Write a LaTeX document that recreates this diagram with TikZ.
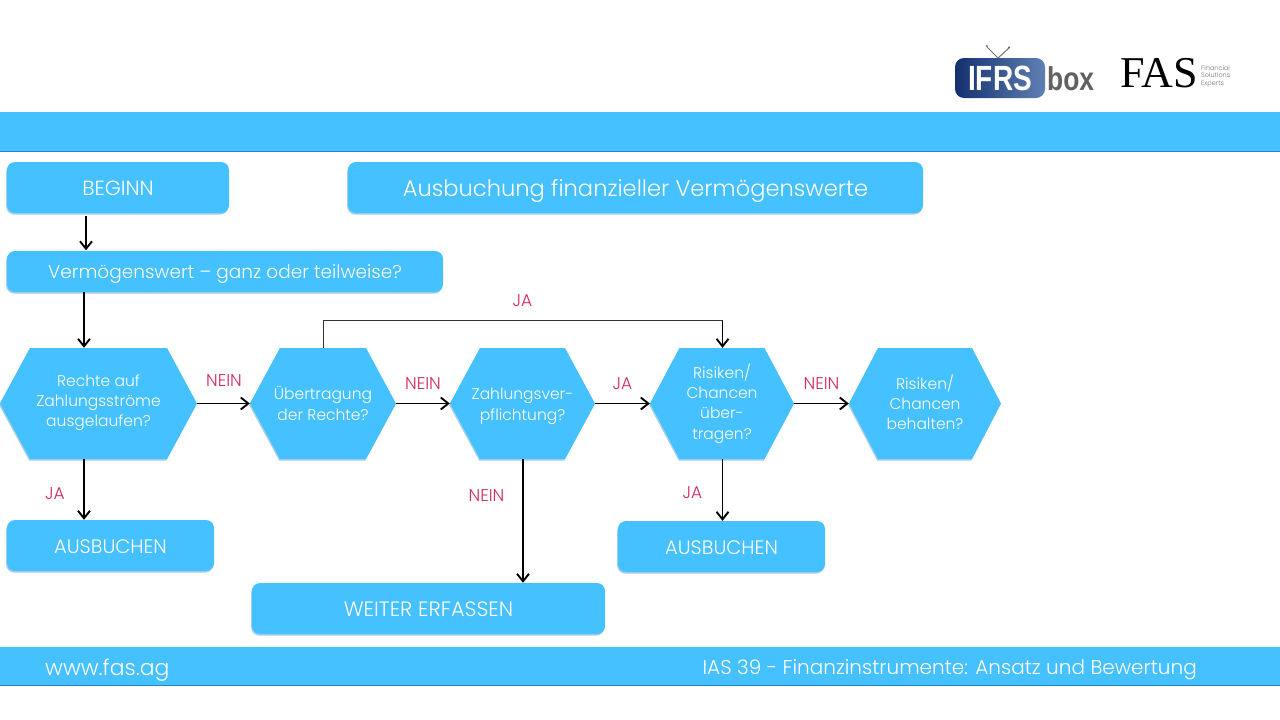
\documentclass[tikz,border=0pt]{standalone}
\usepackage{fontspec}
\setmainfont{Poppins Light}
\newfontfamily\logosans{Liberation Sans}[FakeStretch=0.8]
\newfontfamily\logoserif{Liberation Serif}
\usetikzlibrary{shadows,arrows.meta,positioning}
\definecolor{skyb}{HTML}{45C1FF}
\definecolor{bandline}{HTML}{1F86C8}
\definecolor{nein}{HTML}{D02A62}
\definecolor{ifrsd}{HTML}{14306F}
\definecolor{ifrsl}{HTML}{5F80B5}
\tikzset{
  x=1pt,y=-1pt,
  softshadow/.style={general shadow={shadow xshift=-0.8pt,shadow yshift=-1.6pt,fill=bandline,opacity=.4}},
  flowbox/.style={fill=skyb,rounded corners=8pt,text=white,inner sep=0pt,align=center,softshadow,text depth=0pt},
  hexfill/.style={fill=skyb,softshadow},
  hextext/.style={text=white,inner sep=0pt,align=center,text depth=0pt,font=\fontsize{15.5}{20.2}\selectfont},
  flow/.style={draw=black,line width=1.7pt,-{Straight Barb[length=7.5pt,width=12pt,line width=1.9pt]}},
  thinlink/.style={draw=black!80,line width=1pt},
  branch/.style={font=\fontsize{17}{17}\selectfont,text=nein,inner sep=0pt},
  bandtxt/.style={text=white,inner sep=0pt,anchor=west},
}
% name, left, right, top, bottom, inset, text height (puts the last baseline), text
\newcommand{\hexnode}[8]{%
  \path[hexfill] (#2,{(#4+#5)/2}) -- (#2+#6,#4) -- (#3-#6,#4) -- (#3,{(#4+#5)/2}) -- (#3-#6,#5) -- (#2+#6,#5) -- cycle;
  \node[hextext,text height=#7pt,minimum width=#3pt-#2pt,minimum height=#5pt-#4pt] (#1) at ({(#2+#3)/2},{(#4+#5)/2}) {#8};
}
% name, left, right, top, bottom, font size, text
\newcommand{\boxnode}[7]{%
  \node[flowbox,text height={0.7*#6pt+1.5pt},minimum width=#3pt-#2pt,minimum height=#5pt-#4pt,font=\fontsize{#6}{#6}\selectfont] (#1) at ({(#2+#3)/2},{(#4+#5)/2}) {#7};
}
\begin{document}
\begin{tikzpicture}
\useasboundingbox (0,0) rectangle (1280,720);
\fill[white] (0,0) rectangle (1280,720);
% bands
\node[fill=skyb,minimum width=1280pt,minimum height=39pt,inner sep=0pt,anchor=north west] (topband) at (0,112) {};
\draw[bandline,line width=1.2pt] (topband.south west) -- (topband.south east);
\node[fill=skyb,minimum width=1280pt,minimum height=38pt,inner sep=0pt,anchor=north west] (botband) at (0,647) {};
\draw[bandline,line width=1.2pt] (botband.south west) -- (botband.south east);
\node[bandtxt,font=\fontsize{21.9}{21.9}\selectfont] (url) at (45,670) {www.fas.ag};
\node[bandtxt,font=\fontsize{20}{20}\selectfont,anchor=east] (ias) at (1197,670) {IAS 39 - Finanzinstrumente: Ansatz und Bewertung};
% boxes
\boxnode{beginn}{7}{229}{162}{213}{20.5}{BEGINN}
\boxnode{title}{348}{923}{162}{213}{22.6}{Ausbuchung finanzieller Vermögenswerte}
\boxnode{verm}{7}{443}{251}{292}{18.5}{Vermögenswert – ganz oder teilweise?}
\boxnode{aus1}{7}{214}{520}{571}{19.5}{AUSBUCHEN}
\boxnode{aus2}{618}{825}{521}{572}{19.5}{AUSBUCHEN}
\boxnode{weiter}{252}{605}{583}{634}{20.8}{WEITER ERFASSEN}
% hexagons
\hexnode{h1}{0}{197}{348}{459}{30}{46}{Rechte auf\\Zahlungsströme\\ausgelaufen?}
\hexnode{h2}{250}{396}{348}{459}{30}{33}{Übertragung\\der Rechte?}
\hexnode{h3}{450}{595}{348}{459}{30}{33}{Zahlungsver-\\pflichtung?}
\hexnode{h4}{650}{794}{348}{459}{29.5}{71}{Risiken/\\Chancen\\über-\\tragen?}
\hexnode{h5}{849}{1001}{348}{459}{29}{52}{Risiken/\\Chancen\\behalten?}
% connectors
\coordinate (xa) at (86,0);
\coordinate (xb) at (84,0);
\coordinate (xc) at (523,0);
\coordinate (xd) at (722.5,0);
\coordinate (xe) at (323,0);
\coordinate (ytop) at (0,320.5);
\draw[flow,shorten <=3pt,shorten >=0.5pt] (beginn.south -| xa) -- (verm.north -| xa);
\draw[flow] (verm.south -| xb) -- (h1.north -| xb);
\draw[flow] (h1.south -| xb) -- (aus1.north -| xb);
\draw[flow] (h1.east) -- (h2.west);
\draw[flow] (h2.east) -- (h3.west);
\draw[flow] (h3.east) -- (h4.west);
\draw[flow] (h4.east) -- (h5.west);
\draw[flow] (h3.south -| xc) -- (weiter.north -| xc);
\draw[flow] (h4.south -| xd) -- (aus2.north -| xd);
\draw[thinlink] (h2.north -| xe) -- (ytop -| xe) -- (ytop -| xd);
\draw[flow] (ytop -| xd) -- (h4.north -| xd);
% labels
\node[branch] (l1) at (224,380.5) {NEIN};
\node[branch] (l2) at (423,383.5) {NEIN};
\node[branch] (l3) at (622.5,383.5) {JA};
\node[branch] (l4) at (821.5,383.5) {NEIN};
\node[branch] (l5) at (522.5,300.5) {JA};
\node[branch] (l6) at (55,493.5) {JA};
\node[branch] (l7) at (486.5,495.5) {NEIN};
\node[branch] (l8) at (692.5,493) {JA};
% IFRS box logo
\draw[black!55,line width=1pt] (998,58) -- (987,47);
\draw[black!55,line width=1pt] (998,58) -- (1009,48);
\fill[black!60] (987,46) circle (1.2);
\fill[black!60] (1009,47.5) circle (1.2);
\node[left color=ifrsd,right color=ifrsl,rounded corners=9pt,minimum width=90pt,minimum height=40pt,inner sep=0pt,text=white,font=\logosans\bfseries\fontsize{35}{35}\selectfont] (ifrs) at (1000,78) {IFRS};
\node[text=black!62,inner sep=0pt,anchor=west,font=\logosans\bfseries\fontsize{33}{33}\selectfont] (box) at (1047,79) {box};
% FAS logo
\node[text=black,inner sep=0pt,anchor=west,font=\logoserif\fontsize{44}{44}\selectfont] (fas) at (1120,73) {FAS};
\node[text=black!55,inner sep=0pt,anchor=west,align=left,font=\fontsize{6.5}{7.5}\selectfont] (exp) at (1201,76) {Financial\\Solutions\\Experts};
\end{tikzpicture}
\end{document}
